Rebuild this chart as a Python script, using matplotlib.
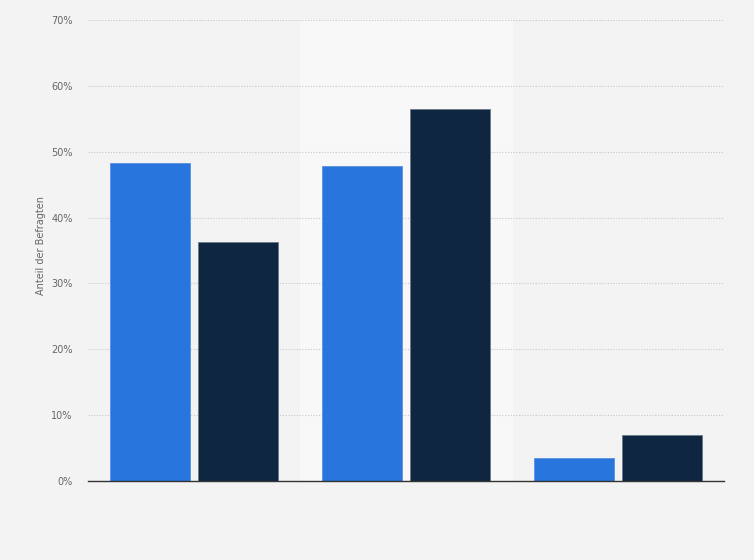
import matplotlib
matplotlib.use("Agg")
import matplotlib.pyplot as plt
import numpy as np

categories = ["", "", ""]
series_a = [48.3, 47.8, 3.5]
series_b = [36.3, 56.5, 7.0]
y_ticks = [0, 10, 20, 30, 40, 50, 60, 70]
y_tick_labels = ["0%", "10%", "20%", "30%", "40%", "50%", "60%", "70%"]

fig = plt.figure(figsize=(7.54, 5.6), dpi=100)
fig.patch.set_facecolor("#f3f3f3")
ax = fig.add_axes([88/754, 79/560, 636/754, 461/560])
ax.set_facecolor("#f3f3f3")

x = np.arange(len(categories))
w = 0.377
off = 0.208
ax.axvspan(0.5, 1.5, color="#f8f8f8", zorder=0)
ax.bar(x - off, series_a, w, color="#2876dd", edgecolor="#5a90e0", linewidth=0.6, zorder=3)
ax.bar(x + off, series_b, w, color="#0f2640", edgecolor="#6a7a8a", linewidth=0.6, zorder=3)

ax.set_xlim(-0.5, 2.5)
ax.set_ylim(0, 70)
ax.set_yticks(y_ticks)
ax.set_yticklabels(y_tick_labels, fontsize=7, color="#666666")
ax.set_xticks([])
ax.grid(axis="y", linestyle=(0, (1, 1.5)), color="#c8c8c8", linewidth=0.8, zorder=1)
for s in ["top", "right", "left"]:
    ax.spines[s].set_visible(False)
ax.spines["bottom"].set_color("#333333")
ax.spines["bottom"].set_linewidth(1.0)
ax.spines["bottom"].set_zorder(4)
ax.tick_params(axis="y", length=0, pad=11)
ax.set_ylabel("Anteil der Befragten", fontsize=7, color="#666666")
ax.yaxis.set_label_coords(-0.066, 0.51)

fig.savefig("out.png", dpi=100, facecolor=fig.get_facecolor())
